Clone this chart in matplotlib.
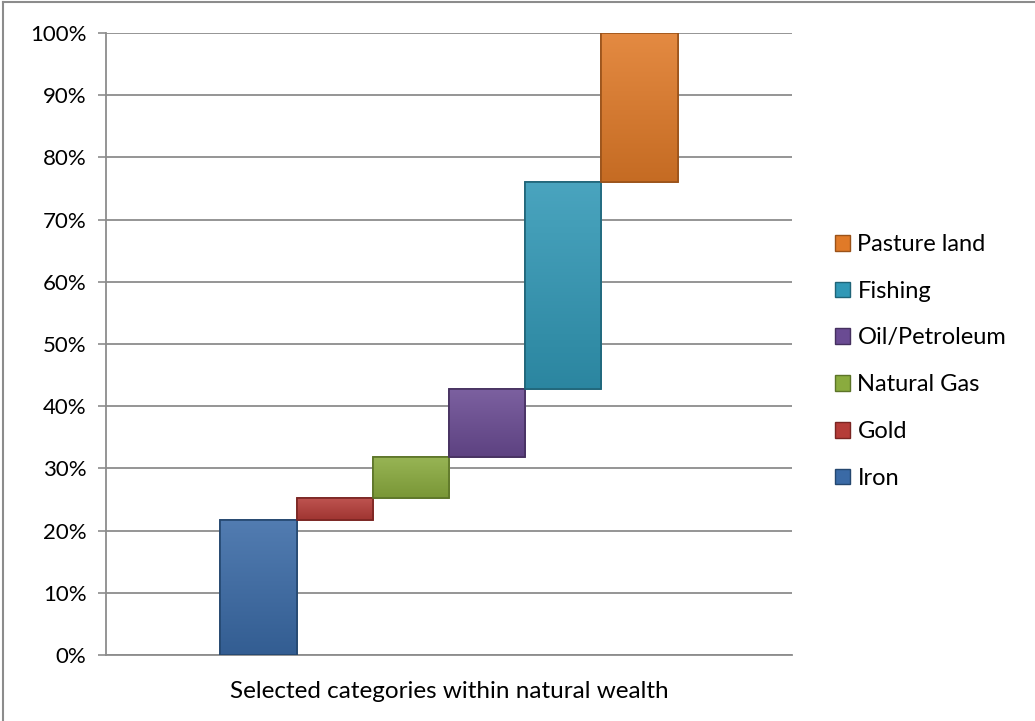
import matplotlib
matplotlib.use('Agg')
import matplotlib.pyplot as plt
import matplotlib.patches as mpatches
import matplotlib.colors as mcolors
from matplotlib.lines import Line2D
import numpy as np

plt.rcParams['font.family'] = ['Lato', 'DejaVu Sans']

# data (share of natural wealth, %)
names  = ['Iron', 'Gold', 'Natural Gas', 'Oil/Petroleum', 'Fishing', 'Pasture land']
shares = [21.7, 3.5, 6.6, 11.0, 33.3, 23.9]
colors = ['#3a6aa6', '#b53c38', '#8aab3e', '#6a4b93', '#3198b6', '#e07a28']
edges  = ['#24476f', '#7a2522', '#5c7428', '#45305f', '#1f6478', '#9a5219']
ticks  = [0, 10, 20, 30, 40, 50, 60, 70, 80, 90, 100]

bases = np.concatenate([[0], np.cumsum(shares)[:-1]])
xpos = np.arange(len(shares))

fig = plt.figure(figsize=(10.35, 7.21), dpi=100, facecolor='w')
ax = fig.add_axes([106/1035, 1-655/721, (792-106)/1035, (655-33)/721])

def shade(c, f):
    r = np.array(mcolors.to_rgb(c))
    if f > 0:
        return r + (1 - r) * f
    return r * (1 + f)

for i in range(len(shares)):
    bars = ax.bar(xpos[i], shares[i], bottom=bases[i], width=1.0, color=colors[i],
                  edgecolor=edges[i], linewidth=1.2, zorder=3, label=names[i])
    # vertical gradient, lighter at top
    top = shade(colors[i], 0.12)
    bot = shade(colors[i], -0.12)
    t = np.linspace(0, 1, 64)[:, None]
    grad = (bot[None, :] * (1 - t) + top[None, :] * t)[:, None, :]
    im = ax.imshow(grad, extent=[xpos[i]-0.5, xpos[i]+0.5, bases[i], bases[i]+shares[i]],
                   origin='lower', aspect='auto', zorder=3.5)
    im.set_clip_path(bars[0])
    ax.bar(xpos[i], shares[i], bottom=bases[i], width=1.0, fill=False,
           edgecolor=edges[i], linewidth=1.2, zorder=4)

ax.set_xlim(-2, 7)
ax.set_ylim(0, 100)
ax.set_yticks(ticks)
ax.set_yticklabels(['%d%%' % t for t in ticks], fontsize=16)
ax.set_xticks([])
ax.yaxis.grid(True, color='#8c8c8c', linewidth=1.3, zorder=0)
ax.tick_params(axis='y', length=6, width=1.2, color='#8c8c8c', pad=8)
for s in ['top', 'right']:
    ax.spines[s].set_visible(False)
for s in ['left', 'bottom']:
    ax.spines[s].set_color('#8c8c8c')
    ax.spines[s].set_linewidth(1.3)
ax.set_xlabel('Selected categories within natural wealth', fontsize=17.5, labelpad=19)

handles = [mpatches.Patch(facecolor=colors[i], edgecolor=edges[i], label=names[i])
           for i in range(len(names))][::-1]
leg = fig.legend(handles=handles, loc='upper left', bbox_to_anchor=(835/1035, 1-234/721),
                 frameon=False, fontsize=17, handlelength=0.65, handleheight=0.65,
                 handletextpad=0.3, labelspacing=1.09, borderaxespad=0, borderpad=0)

# outer chart border (only left and top visible)
fig.add_artist(Line2D([3/1035, 3/1035], [0, 1-2/721], color='#8c8c8c', linewidth=1.5))
fig.add_artist(Line2D([3/1035, 1], [1-2/721, 1-2/721], color='#8c8c8c', linewidth=1.5))

fig.savefig('out.png', dpi=100)
